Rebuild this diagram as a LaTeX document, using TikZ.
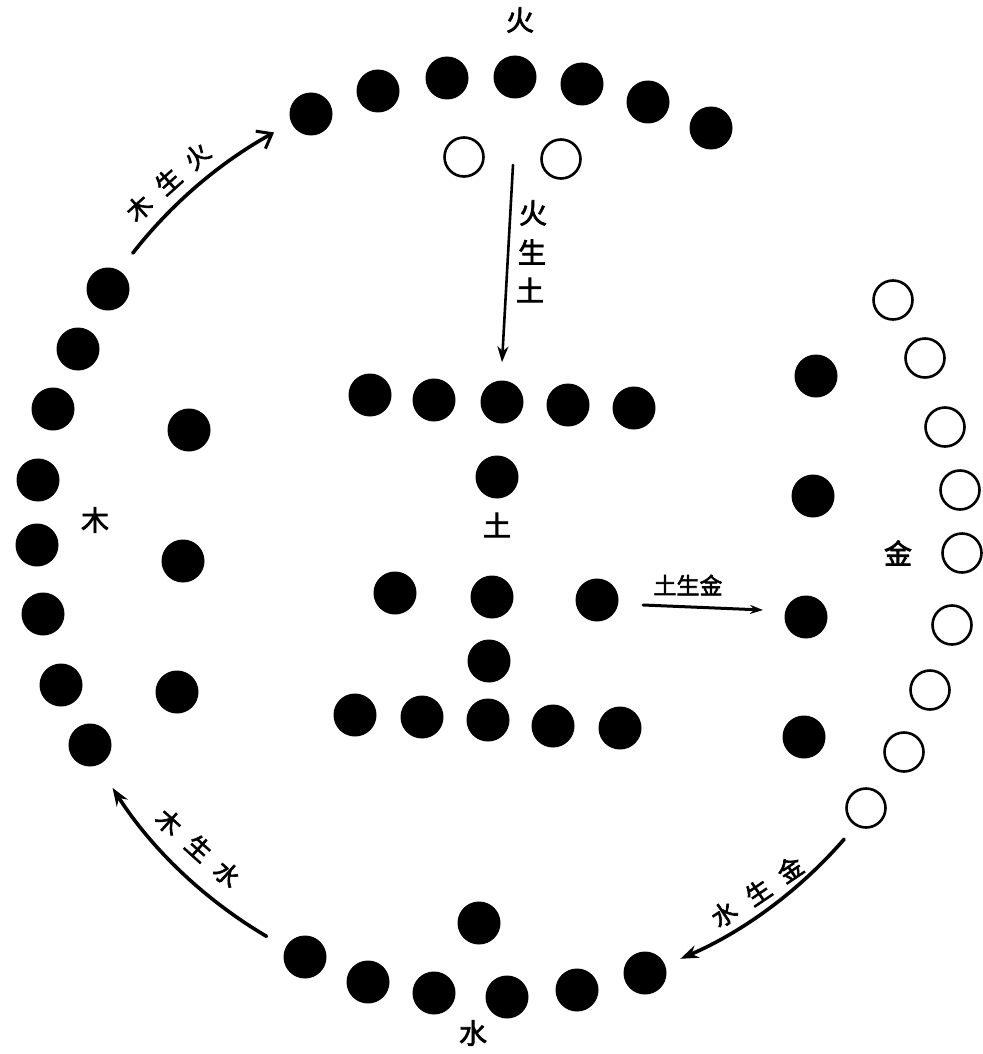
\documentclass[tikz,border=0pt]{standalone}
\usepackage{fontspec}
\newfontfamily\cjk[FakeBold=2.5]{Noto Sans CJK SC}
\usetikzlibrary{arrows.meta,calc}
\begin{document}
\begin{tikzpicture}[x=1pt,y=-1pt,
  dot/.style={circle,fill=black,inner sep=0pt,minimum size=43pt},
  ring/.style={circle,draw=black,line width=2.6pt,fill=white,inner sep=0pt,minimum size=39pt},
  lab/.style={font=\cjk\fontsize{28}{30}\selectfont,inner sep=0pt},
  rlab/.style={font=\cjk\fontsize{25}{27}\selectfont,inner sep=0pt},
  slab/.style={font=\cjk\fontsize{23}{25}\selectfont,inner sep=0pt},
  arr/.style={line width=3.6pt,line cap=round},
  thinarr/.style={line width=2.6pt,line cap=round},
]
\fill[white] (0,0) rectangle (982,1054);
\useasboundingbox (0,0) rectangle (982,1054);

% ---- fire (top)
\foreach \x/\y [count=\i] in {311/114,378/91,447/78,515/77,582/84,648/102,711/128}
  \node[dot] (fire\i) at (\x,\y) {};
\node[ring] (firew1) at (464,157) {};
\node[ring] (firew2) at (561,159) {};
\node[lab] (firelab) at (520,20) {火};

% ---- wood (left)
\foreach \x/\y [count=\i] in {108/289,78/349,53/409,38/480,37/545,43/614,61/685,90/745}
  \node[dot] (wood\i) at (\x,\y) {};
\foreach \x/\y [count=\i] in {189/430,183/561,177/692}
  \node[dot] (woodin\i) at (\x,\y) {};
\node[lab] (woodlab) at (95,520) {木};

% ---- earth (centre)
\foreach \x/\y [count=\i] in {370/395,434/400,502/402,568/405,634/408,
    497/477,395/593,492/597,597/600,489/661,
    355/715,422/717,488/720,553/726,620/728}
  \node[dot] (earth\i) at (\x,\y) {};
\node[lab] (earthlab) at (497,525) {土};

% ---- metal (right)
\foreach \x/\y [count=\i] in {816/376,813/496,806/617,804/737}
  \node[dot] (metal\i) at (\x,\y) {};
\foreach \x/\y [count=\i] in {893/300,925/358,945/427,960/490,962/553,952/625,930/690,904/752,866/808}
  \node[ring] (metalw\i) at (\x,\y) {};
\node[lab] (metallab) at (898,553) {金};

% ---- water (bottom)
\foreach \x/\y [count=\i] in {305/957,368/982,434/993,507/997,577/990,645/973,479/923}
  \node[dot] (water\i) at (\x,\y) {};
\node[lab] (waterlab) at (473,1033) {水};

% ---- arrows
\coordinate (C) at (500,540);

% wood -> fire
\coordinate (wfA) at ($(C)+(142:466pt)$);
\draw[arr,-{Straight Barb[length=13pt,width=20pt,line width=3pt]}] (wfA) arc[start angle=142,end angle=119,radius=466pt];
\node[rlab,rotate=42] (wf1) at (139,208) {木};
\node[rlab,rotate=42] (wf2) at (168,181) {生};
\node[rlab,rotate=42] (wf3) at (197,156) {火};

% fire -> earth
\coordinate (feA) at (513,165);
\draw[thinarr,-{Stealth[length=16pt,width=11pt]}] (feA) -- ($(earth3.north)+(0,-18)$);
\node[lab] (fe1) at (533,213) {火};
\node[lab] (fe2) at (532,252) {生};
\node[lab] (fe3) at (530,290) {土};

% earth -> metal
\coordinate (emA) at (643,605);
\coordinate (emB) at (763,610);
\draw[arr,line width=3pt,-{Stealth[length=13pt,width=9pt]}] (emA) -- (emB);
\node[slab] (emlab) at (688,585) {土生金};

% metal -> water
\coordinate (mwA) at ($(C)+(-41:456pt)$);
\draw[arr,-{Stealth[length=18pt,width=13pt]}] (mwA) arc[start angle=-41,end angle=-66.7,radius=456pt];
\node[rlab,rotate=34] (mw1) at (724,914) {水};
\node[rlab,rotate=34] (mw2) at (758,892) {生};
\node[rlab,rotate=34] (mw3) at (790,869) {金};

% water -> wood
\coordinate (wwA) at ($(C)+(239.5:460pt)$);
\draw[arr,-{Stealth[length=18pt,width=13pt]}] (wwA) arc[start angle=239.5,end angle=212.6,radius=460pt];
\node[rlab,rotate=-42] (ww1) at (169,822) {木};
\node[rlab,rotate=-42] (ww2) at (199,848) {生};
\node[rlab,rotate=-42] (ww3) at (227,874) {水};
\end{tikzpicture}
\end{document}
